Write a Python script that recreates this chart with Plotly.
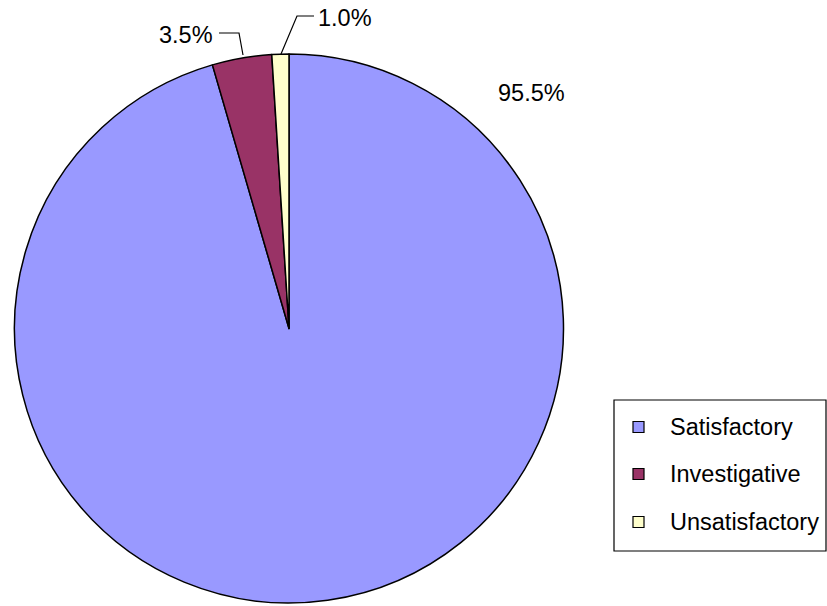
import plotly.graph_objects as go

categories = ["Satisfactory", "Investigative", "Unsatisfactory"]
values = [95.5, 3.5, 1.0]
colors = ["#9999FF", "#993366", "#FFFFCC"]
label_texts = ["95.5%", "3.5%", "1.0%"]

W, H = 827, 606
FONT = "Liberation Sans, Arial, sans-serif"
FS = 23.5

def px(x):
    return x / W

def py(y):
    return 1 - y / H

fig = go.Figure()
fig.add_trace(go.Pie(
    labels=categories,
    values=values,
    sort=False,
    direction="clockwise",
    rotation=0,
    textinfo="none",
    hoverinfo="label+percent",
    marker=dict(colors=colors, line=dict(color="black", width=1.5)),
    domain=dict(x=[px(14), px(564)], y=[py(603), py(54)]),
    showlegend=False,
))

# data labels
label_pos = [(531, 93), (186, 35), (345, 18)]
for t, (x, y) in zip(label_texts, label_pos):
    fig.add_annotation(x=px(x), y=py(y), xref="paper", yref="paper", text=t,
                       showarrow=False, font=dict(family=FONT, size=FS, color="black"),
                       xanchor="center", yanchor="middle")

# leader lines
fig.add_shape(type="path", xref="paper", yref="paper",
              path=f"M {px(219)} {py(33)} L {px(239)} {py(33)} L {px(243)} {py(55)}",
              line=dict(color="black", width=1.2))
fig.add_shape(type="path", xref="paper", yref="paper",
              path=f"M {px(314)} {py(16)} L {px(297)} {py(16)} L {px(281)} {py(54)}",
              line=dict(color="black", width=1.2))

# legend (drawn box)
fig.add_shape(type="rect", xref="paper", yref="paper",
              x0=px(614), x1=px(826), y0=py(551), y1=py(400),
              line=dict(color="black", width=1.2), fillcolor="white")
row_y = [427, 474, 522]
for cat, col, y in zip(categories, colors, row_y):
    fig.add_shape(type="rect", xref="paper", yref="paper",
                  x0=px(633), x1=px(644), y0=py(y + 5.5), y1=py(y - 5.5),
                  line=dict(color="black", width=1.2), fillcolor=col)
    fig.add_annotation(x=px(668), y=py(y), xref="paper", yref="paper", text=cat,
                       showarrow=False, font=dict(family=FONT, size=FS, color="black"),
                       xanchor="left", yanchor="middle")

fig.update_layout(
    width=W, height=H,
    margin=dict(l=0, r=0, t=0, b=0),
    paper_bgcolor="white", plot_bgcolor="white",
    font=dict(family=FONT),
)
fig.write_html("out.html")
